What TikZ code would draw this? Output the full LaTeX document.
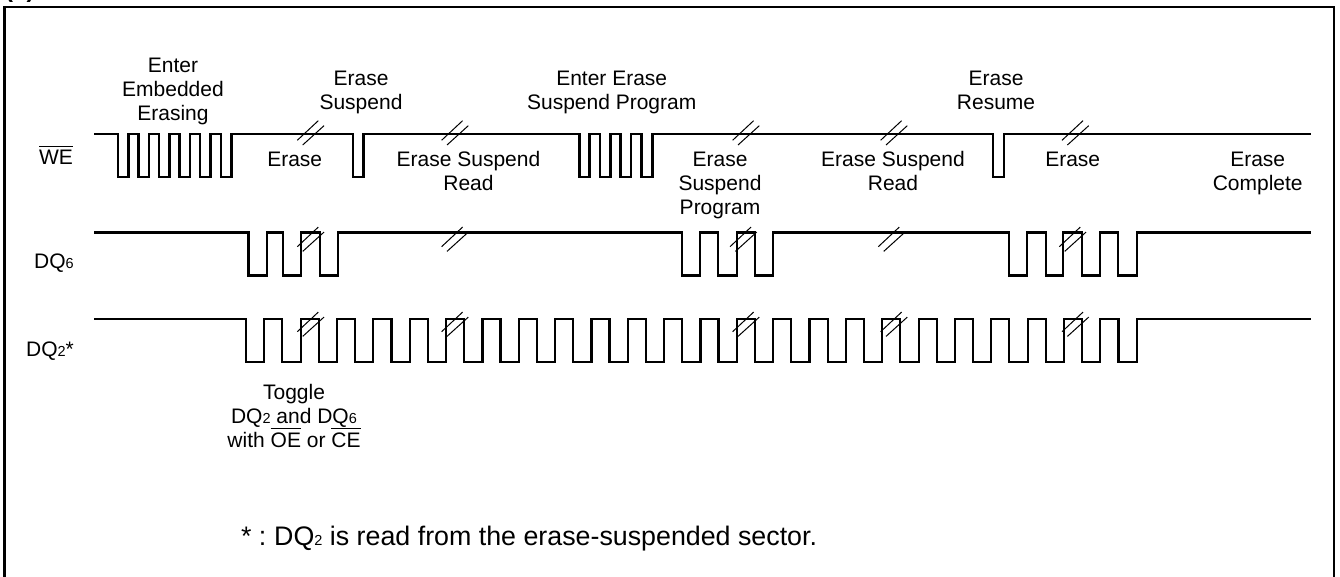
\documentclass[tikz,border=0pt]{standalone}
\usepackage{fontspec}
\setmainfont{Liberation Sans}
\newcommand{\ovl}[1]{\smash{\vbox{\hrule height 1pt \kern 3.6pt \hbox{#1}}}}
\newcommand{\subd}[1]{{\fontsize{14.5}{14.5}\selectfont #1}}
\tikzset{
  wave/.style={line width=2.2pt,line join=miter,line cap=butt,black},
  frameline/.style={line width=2.2pt,line join=miter,black},
  tick/.style={line width=1pt,black},
  lbl/.style={inner sep=0pt,outer sep=0pt,align=center,anchor=base,font=\fontsize{21}{24}\selectfont},
  note/.style={inner sep=0pt,outer sep=0pt,anchor=base west,font=\fontsize{26.8}{30}\selectfont},
  pics/breakmark/.style={code={
    \draw[tick] (-13.4,7.3) -- (7.6,-12.3);
    \draw[tick] (-8,12) -- (13.3,-7.3);
  }}
}
\begin{document}
\begin{tikzpicture}[x=1pt,y=-1pt]
\useasboundingbox (0,0) rectangle (1340,577);
\clip (0,0) rectangle (1340,577);
\fill[white] (0,0) rectangle (1340,577);
% frame (cut off by the page at the bottom)
\draw[frameline] (4.4,590) -- (4.4,7) -- (1334,7) -- (1334,590);
\node[inner sep=0pt,anchor=base west,font=\bfseries\fontsize{24}{24}\selectfont] (tag) at (5,-2) {(a)};
% WE
\draw[wave] (94,134)
  foreach \a/\b in {118/128.5,138.5/149,159/169.5,179.5/190,200/210.5,221/231.5,353.3/363.5,579.5/589.5,600/610.5,620.5/631,641.5/652.5,992.7/1004}
  { -| (\a,177) -| (\b,134) } -- (1310.7,134);
% DQ6
\draw[wave] (94,232.6)
  foreach \a/\b in {248.5/266.7,282.7/300.7,320/338.3,681.7/700.3,718.3/736.7,755/772.7,1009.3/1027,1045.7/1063.3,1081.7/1100,1118.3/1136.7}
  { -| (\a,275.5) -| (\b,232.6) } -- (1310.7,232.6);
% DQ2
\draw[wave] (94,319.3)
  foreach \k in {0,...,24}
  { -| ({246+36.35*\k},361.7) -| ({264.3+36.35*\k},319.3) } -- (1310.7,319.3);
% break marks
\foreach \x in {310.7,455,746,894,1075.4} \pic at (\x,133) {breakmark};
\foreach \x in {310.7,455,743.4,891.7,1072.7} \pic at (\x,239.4) {breakmark};
\foreach \x in {310.7,455,746,894,1075.4} \pic at (\x,324.4) {breakmark};
% signal names
\node[lbl] (we) at (56,165) {\ovl{WE}};
\node[lbl] (dq6) at (54,268.3) {DQ\subd{6}};
\node[lbl] (dq2) at (50,356.7) {DQ\subd{2}*};
% state labels
\node[lbl] (l1) at (173,121) {Enter\\Embedded\\Erasing};
\node[lbl] (l2) at (361,110) {Erase\\Suspend};
\node[lbl] (l3) at (294.7,166.7) {Erase};
\node[lbl] (l4) at (468.5,190.7) {Erase Suspend\\Read};
\node[lbl] (l5) at (611.7,109.7) {Enter Erase\\Suspend Program};
\node[lbl] (l6) at (720,214.7) {Erase\\Suspend\\Program};
\node[lbl] (l7) at (893,190.7) {Erase Suspend\\Read};
\node[lbl] (l8) at (996,109.7) {Erase\\Resume};
\node[lbl] (l9) at (1072.7,166.7) {Erase};
\node[lbl] (l10) at (1257.7,190.7) {Erase\\Complete};
\node[lbl] (tg) at (294,447.3) {Toggle\\DQ\subd{2} and DQ\subd{6}\\with \ovl{OE} or \ovl{CE}};
\node[note] (fn) at (241,545) {* :\kern-2pt{} DQ\subd{2} is read from the erase-suspended sector.};
\end{tikzpicture}
\end{document}
